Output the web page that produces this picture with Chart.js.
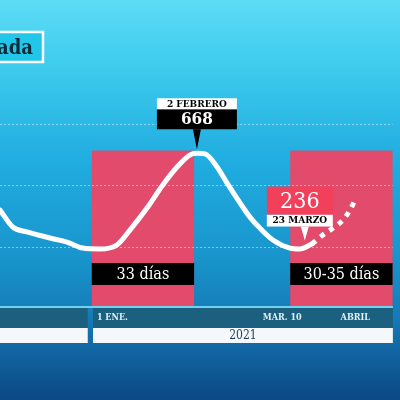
<!DOCTYPE html>
<html>
<head>
<meta charset="utf-8">
<script src="https://cdn.jsdelivr.net/npm/chart.js@4.4.1/dist/chart.umd.min.js"></script>
<style>
  html, body { margin: 0; padding: 0; background: #1a9ed2; }
  canvas { display: block; }
</style>
</head>
<body>
<canvas id="myChart" width="400" height="400"></canvas>
<script>
// days counted from 1 Jan 2021, values = daily cases
let days  = [-30.6, -26.5, -21.9, -14.5, -9, -3.9, 1.6, 7.1, 11.3, 16.8, 21.9, 26.5, 30.6, 32.9, 35.5, 39.4, 42.6, 46.8, 50, 53.2, 57.4, 62.9, 66.1, 70]
let cases = [415, 340, 318, 291, 273, 246, 242, 260, 326, 424, 527, 607, 660, 668, 665, 607, 536, 447, 384, 335, 282, 246, 242, 264]

let projDays  = [70, 73.5, 76.8, 80, 82.3, 84.2]
let projCases = [264, 304, 335, 371, 416, 469]

// pink windows
let winFrom   = [-1, 63]
let winTo     = [32, 96]
let winLabels = ['33 días', '30-35 días']

// tick labels
let tickDays   = [0, 68, 90]
let tickLabels = ['1 ENE.', 'MAR. 10', 'ABRIL']

// year bands
let yearFrom   = [-31, -0.6]
let yearTo     = [-2.3, 96.1]
let yearLabels = ['', '2021']

// grid values and callouts
let gridValues = [250, 525, 800]
let peak = {x: 32.9, y: 668, value: '668', date: '2 FEBRERO'}
let last = {x: 67.7, y: 244, value: '236', date: '23 MARZO'}

const SERIF = "'DejaVu Serif Condensed', 'DejaVu Serif', serif"

const backdrop = {
    id: 'backdrop',
    beforeDraw(chart) {
        const c = chart.ctx
        const g = c.createLinearGradient(0, 0, 0, 400)
        g.addColorStop(0, '#5ddcf6')
        g.addColorStop(0.15, '#40cdee')
        g.addColorStop(0.4, '#20ade0')
        g.addColorStop(0.65, '#1894cb')
        g.addColorStop(0.8, '#1579b5')
        g.addColorStop(1, '#0b4783')
        c.save()
        c.fillStyle = g
        c.fillRect(0, 0, 400, 400)
        // title box
        c.fillStyle = '#22c6e8'
        c.fillRect(-4, 32, 47, 30)
        c.strokeStyle = '#ffffff'
        c.lineWidth = 2.5
        c.strokeRect(-4, 32, 47, 30)
        c.fillStyle = '#0b2b3b'
        c.font = 'bold 20px ' + SERIF
        c.textAlign = 'right'
        c.textBaseline = 'alphabetic'
        c.fillText('ada', 33, 54)
        c.restore()
    },
    beforeDatasetsDraw(chart) {
        const c = chart.ctx
        const xs = chart.scales.x, ys = chart.scales.y
        c.save()
        // windows
        const top = ys.getPixelForValue(680)
        c.fillStyle = '#e24b6c'
        for (let i = 0; i < winFrom.length; i++) {
            const x0 = xs.getPixelForValue(winFrom[i]), x1 = xs.getPixelForValue(winTo[i])
            c.fillRect(x0, top, x1 - x0, 307 - top)
        }
        // grid
        c.strokeStyle = 'rgba(255,255,255,0.45)'
        c.lineWidth = 1
        c.setLineDash([2, 2])
        gridValues.forEach(v => {
            const y = Math.round(ys.getPixelForValue(v)) + 0.5
            c.beginPath(); c.moveTo(0, y); c.lineTo(xs.getPixelForValue(96), y); c.stroke()
        })
        c.setLineDash([])
        // axis band
        c.fillStyle = '#6fd3f0'
        c.fillRect(0, 306, xs.getPixelForValue(96.1), 2)
        for (let i = 0; i < yearFrom.length; i++) {
            const x0 = Math.max(0, xs.getPixelForValue(yearFrom[i])), x1 = xs.getPixelForValue(yearTo[i])
            c.fillStyle = '#1c6080'
            c.fillRect(x0, 308, x1 - x0, 20)
            c.fillStyle = '#f4f8fa'
            c.fillRect(x0, 328, x1 - x0, 15)
            c.fillStyle = '#1b3b5c'
            c.font = '12px ' + SERIF
            c.textAlign = 'center'
            c.textBaseline = 'middle'
            c.fillText(yearLabels[i], (x0 + x1) / 2, 336)
        }
        c.fillStyle = '#e3f1f6'
        c.font = 'bold 9px ' + SERIF
        c.textBaseline = 'middle'
        tickDays.forEach((d, i) => {
            const x = xs.getPixelForValue(d)
            if (i === 0) { c.textAlign = 'left'; c.fillText(tickLabels[i], x + 2, 318) }
            else { c.textAlign = 'right'; c.fillText(tickLabels[i], x - 4, 318) }
        })
        c.restore()
    },
    afterDatasetsDraw(chart) {
        const c = chart.ctx
        const xs = chart.scales.x, ys = chart.scales.y
        c.save()
        // window labels
        c.font = '16px ' + SERIF
        c.textAlign = 'center'
        c.textBaseline = 'middle'
        for (let i = 0; i < winFrom.length; i++) {
            const x0 = xs.getPixelForValue(winFrom[i]), x1 = xs.getPixelForValue(winTo[i])
            c.fillStyle = '#000000'
            c.fillRect(x0, 263, x1 - x0, 22)
            c.fillStyle = '#ffffff'
            c.fillText(winLabels[i], (x0 + x1) / 2, 274.5)
        }
        // peak callout
        let px = xs.getPixelForValue(peak.x), py = ys.getPixelForValue(peak.y) - 4
        c.fillStyle = '#000000'
        c.beginPath(); c.moveTo(px - 4, py - 20); c.lineTo(px + 4, py - 20); c.lineTo(px, py); c.closePath(); c.fill()
        c.fillRect(px - 40, py - 40, 80, 20)
        c.fillStyle = '#ffffff'
        c.fillRect(px - 40, py - 51, 80, 11)
        c.fillStyle = '#000000'
        c.font = 'bold 10px ' + SERIF
        c.fillText(peak.date, px, py - 45)
        c.fillStyle = '#ffffff'
        c.font = 'bold 17px ' + SERIF
        c.fillText(peak.value, px, py - 29.5)
        // last value callout
        px = xs.getPixelForValue(last.x); py = ys.getPixelForValue(last.y) - 8
        const bx = px - 38
        c.fillStyle = '#ffffff'
        c.beginPath(); c.moveTo(px - 4, py - 14); c.lineTo(px + 4, py - 14); c.lineTo(px, py); c.closePath(); c.fill()
        c.fillRect(bx, py - 26, 66, 12)
        c.fillStyle = '#f2405b'
        c.fillRect(bx, py - 54, 66, 28)
        c.fillStyle = '#000000'
        c.font = 'bold 10px ' + SERIF
        c.fillText(last.date, bx + 33, py - 20)
        c.fillStyle = '#ffffff'
        c.font = '23px ' + SERIF
        c.fillText(last.value, bx + 33, py - 39)
        c.restore()
    }
}

const data = {
    datasets: [{
        label: 'casos',
        data: days.map((d, i) => ({x: d, y: cases[i]})),
        borderColor: '#ffffff',
        borderWidth: 5,
        pointRadius: 0,
        cubicInterpolationMode: 'monotone',
        borderCapStyle: 'round',
        borderJoinStyle: 'round'
    }, {
        label: 'proyección',
        data: projDays.map((d, i) => ({x: d, y: projCases[i]})),
        borderColor: '#ffffff',
        borderWidth: 5,
        borderDash: [5, 6],
        pointRadius: 0,
        cubicInterpolationMode: 'monotone'
    }]
}

const config = {
    type: 'line',
    data: data,
    options: {
        responsive: false,
        animation: false,
        layout: {padding: 0},
        plugins: {legend: {display: false}, tooltip: {enabled: false}},
        scales: {
            x: {type: 'linear', min: -30.6, max: 98.4, display: false},
            y: {min: -430, max: 1350, display: false}
        }
    },
    plugins: [backdrop]
}

var ctx = document.getElementById("myChart")
var newmychart = new Chart(ctx, config)
</script>
</body>
</html>
